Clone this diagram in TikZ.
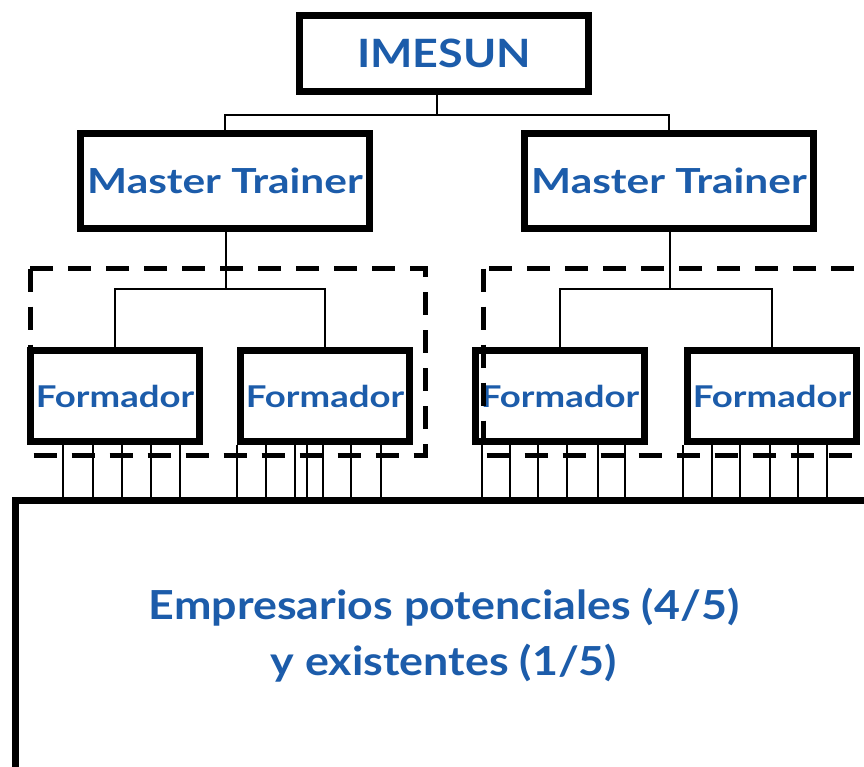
\documentclass[tikz,border=0pt]{standalone}
\usepackage{graphicx}
\usepackage{fontspec}
\setmainfont{Lato}
\definecolor{tblue}{RGB}{28,92,170}
\newcommand{\hsc}[2]{\scalebox{#1}[1]{#2}}
\tikzset{
  box/.style={draw=black, line width=7pt, fill=white, rectangle, inner sep=0pt, text=tblue, font=\bfseries},
  conn/.style={draw=black, line width=1.3pt},
  group/.style={draw=black, line width=5pt, dash pattern=on 23pt off 15pt},
  lab/.style={text=tblue, font=\bfseries, align=center, inner sep=0pt}
}
\begin{document}
\begin{tikzpicture}[x=1pt,y=-1pt]
\useasboundingbox (0,0) rectangle (864,766);
\clip (0,0) rectangle (864,766);
% bottom box
\node[box, minimum width=900pt, minimum height=300pt, anchor=north west] (emp) at (12,497) {};
\node[lab, font=\bfseries\fontsize{40}{56}\selectfont] (emptext) at (444,636) {\hsc{1.12}{\begin{tabular}{@{}c@{}}Empresarios potenciales (4/5)\\y existentes (1/5)\end{tabular}}};
% top
\node[box, minimum width=289pt, minimum height=76pt, font=\bfseries\fontsize{39}{48}\selectfont] (imesun) at (444,53.5) {\hsc{1.15}{IMESUN}};
\node[box, minimum width=289pt, minimum height=95pt, font=\bfseries\fontsize{34.5}{40}\selectfont] (mt1) at (225,181) {\hsc{1.23}{Master Trainer}};
\node[box, minimum width=289pt, minimum height=95pt, font=\bfseries\fontsize{34.5}{40}\selectfont] (mt2) at (669,181) {\hsc{1.23}{Master Trainer}};
\coordinate (j0) at (437,115);
\coordinate (j1) at (226,289);
\coordinate (j2) at (670,289);
% formadors
\tikzset{fbox/.style={box, minimum width=169pt, minimum height=91pt, font=\bfseries\fontsize{30}{36}\selectfont}}
\node[fbox] (f1) at (115,396) {\hsc{1.22}{Formador}};
\node[fbox] (f2) at (325,396) {\hsc{1.22}{Formador}};
\node[fbox] (f3) at (560,396) {\hsc{1.22}{Formador}};
\node[fbox] (f4) at (772,396) {\hsc{1.22}{Formador}};
% connectors
\draw[conn] (imesun.south -| j0) -- (j0);
\draw[conn] (mt1.north) |- (j0) -| (mt2.north);
\draw[conn] (mt1.south -| j1) -- (j1);
\draw[conn] (f1.north) |- (j1) -| (f2.north);
\draw[conn, line width=2.5pt] (mt2.south -| j2) -- (j2);
\draw[conn] (f3.north) |- (j2) -| (f4.north);
% lines to bottom box
\foreach \x in {63,93,122,151,180,237,266,295,307,323,351,381,482,510,538,567,598,625,683,712,740,770,798,827}
  \draw[conn] (f1.south -| \x,0) -- (emp.north -| \x,0);
% dashed groups
\draw[group] (30,268.5) rectangle (425,455);
\draw[group] (483,268.5) rectangle (900,455);
\end{tikzpicture}
\end{document}
